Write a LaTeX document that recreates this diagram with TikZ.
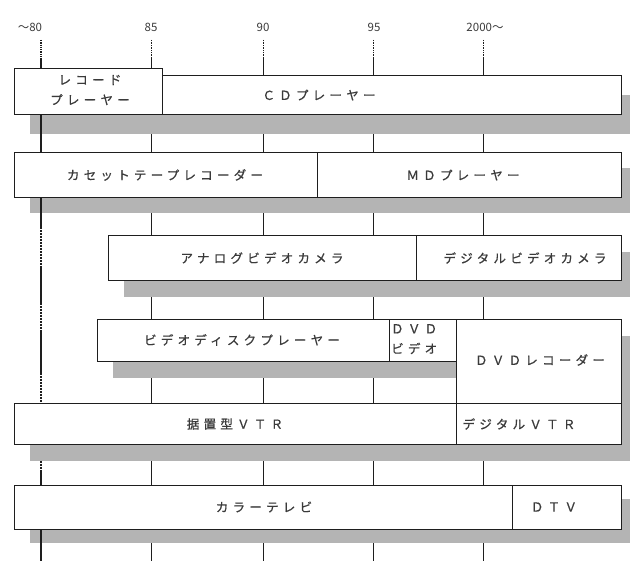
\documentclass[tikz,border=0pt]{standalone}
\usepackage{fontspec}
\newfontfamily\jp[LetterSpace=34,FakeBold=0.6]{Noto Sans CJK JP}
\newfontfamily\jpy{Noto Sans CJK JP}
\definecolor{shd}{HTML}{B4B4B4}
\definecolor{txt}{HTML}{3A3A3A}
\definecolor{ln}{HTML}{1E1E1E}
\tikzset{
  bx/.style={draw=ln, line width=1.2pt, fill=white, inner sep=0pt, anchor=north west},
  lbl/.style={font=\jp\fontsize{12.5}{14}\selectfont, text=txt, inner sep=0pt},
  lbltwo/.style={font=\jp\fontsize{12.5}{20}\selectfont, text=txt, inner sep=0pt},
  yr/.style={font=\jpy\fontsize{11.5}{12}\selectfont, text=txt, inner sep=0pt},
  thin/.style={draw=ln, line width=0.7pt},
  thick80/.style={draw=ln, line width=1.3pt},
  shadow/.style={fill=shd, draw=none}
}
\begin{document}
\begin{tikzpicture}[x=1pt,y=-1pt]
\useasboundingbox (0,0) rectangle (630,561);
% year labels
\node[yr] (y80) at (30,27) {〜80};
\node[yr] (y85) at (151,27) {85};
\node[yr] (y90) at (263,27) {90};
\node[yr] (y95) at (374,27) {95};
\node[yr] (y00) at (485,27) {2000〜};
% thin year lines
\foreach \xx in {151,263,373,483}{
  \draw[thin, densely dotted] (\xx,40) -- (\xx,58);
  \draw[thin] (\xx,58) -- (\xx,561);
}
% shadows
\fill[shadow] (30,95) rectangle (637,134);
\fill[shadow] (30,168) rectangle (637,213);
\fill[shadow] (124,252) rectangle (637,297);
\fill[shadow] (113,336) rectangle (637,378);
\fill[shadow] (472,336) rectangle (637,420);
\fill[shadow] (30,420) rectangle (637,461);
\fill[shadow] (30,499) rectangle (637,543);
% 80 line
\draw[thick80, densely dotted] (41,40) -- (41,58);
\draw[thick80] (41,58) -- (41,227);
\draw[thick80, dash pattern=on 2pt off 1pt] (41,227) -- (41,267);
\draw[thick80] (41,267) -- (41,303);
\draw[thick80, dash pattern=on 2pt off 1pt] (41,303) -- (41,330);
\draw[thick80] (41,330) -- (41,373);
\draw[thick80, dash pattern=on 2pt off 1pt] (41,373) -- (41,403);
\draw[thick80, dash pattern=on 2pt off 1pt] (41,461) -- (41,472);
\draw[thick80] (41,472) -- (41,561);
% row 1
\node[bx, minimum width=459pt, minimum height=39pt] (cd) at (162,75) {};
\node[bx, minimum width=148pt, minimum height=46pt] (rec) at (14,68) {};
% row 2
\node[bx, minimum width=303pt, minimum height=45pt] (cas) at (14,152) {};
\node[bx, minimum width=304pt, minimum height=45pt] (md) at (317,152) {};
% row 3
\node[bx, minimum width=308pt, minimum height=45pt] (avc) at (108,235) {};
\node[bx, minimum width=205pt, minimum height=45pt] (dvc) at (416,235) {};
% row 4
\node[bx, minimum width=292pt, minimum height=42pt] (vdp) at (97,319) {};
\node[bx, minimum width=67pt, minimum height=42pt] (dvdv) at (389,319) {};
\node[bx, minimum width=165pt, minimum height=84pt] (dvdr) at (456,319) {};
% row 5
\node[bx, minimum width=442pt, minimum height=41pt] (vtr) at (14,403) {};
\node[bx, minimum width=165pt, minimum height=41pt] (dvtr) at (456,403) {};
% row 6
\node[bx, minimum width=498pt, minimum height=44pt] (ctv) at (14,485) {};
\node[bx, minimum width=109pt, minimum height=44pt] (dtv) at (512,485) {};
% labels
\node[lbltwo, align=center] (trec) at (90,90) {レコード\\プレーヤー};
\node[lbl] (tcd) at (319,95) {ＣＤプレーヤー};
\node[lbl] (tcas) at (165,175) {カセットテープレコーダー};
\node[lbl] (tmd) at (463,175) {ＭＤプレーヤー};
\node[lbl] (tavc) at (262,258) {アナログビデオカメラ};
\node[lbl] (tdvc) at (525,258) {デジタルビデオカメラ};
\node[lbl] (tvdp) at (242,340) {ビデオディスクプレーヤー};
\node[lbltwo, align=left, anchor=north west] (tdvdv) at (391,324) {ＤＶＤ\\ビデオ};
\node[lbl] (tdvdr) at (540,360) {ＤＶＤレコーダー};
\node[lbl] (tvtr) at (235,424) {据置型ＶＴＲ};
\node[lbl] (tdvtr) at (519,424) {デジタルＶＴＲ};
\node[lbl] (tctv) at (264,507) {カラーテレビ};
\node[lbl] (tdtv) at (554,507) {ＤＴＶ};
\end{tikzpicture}
\end{document}
